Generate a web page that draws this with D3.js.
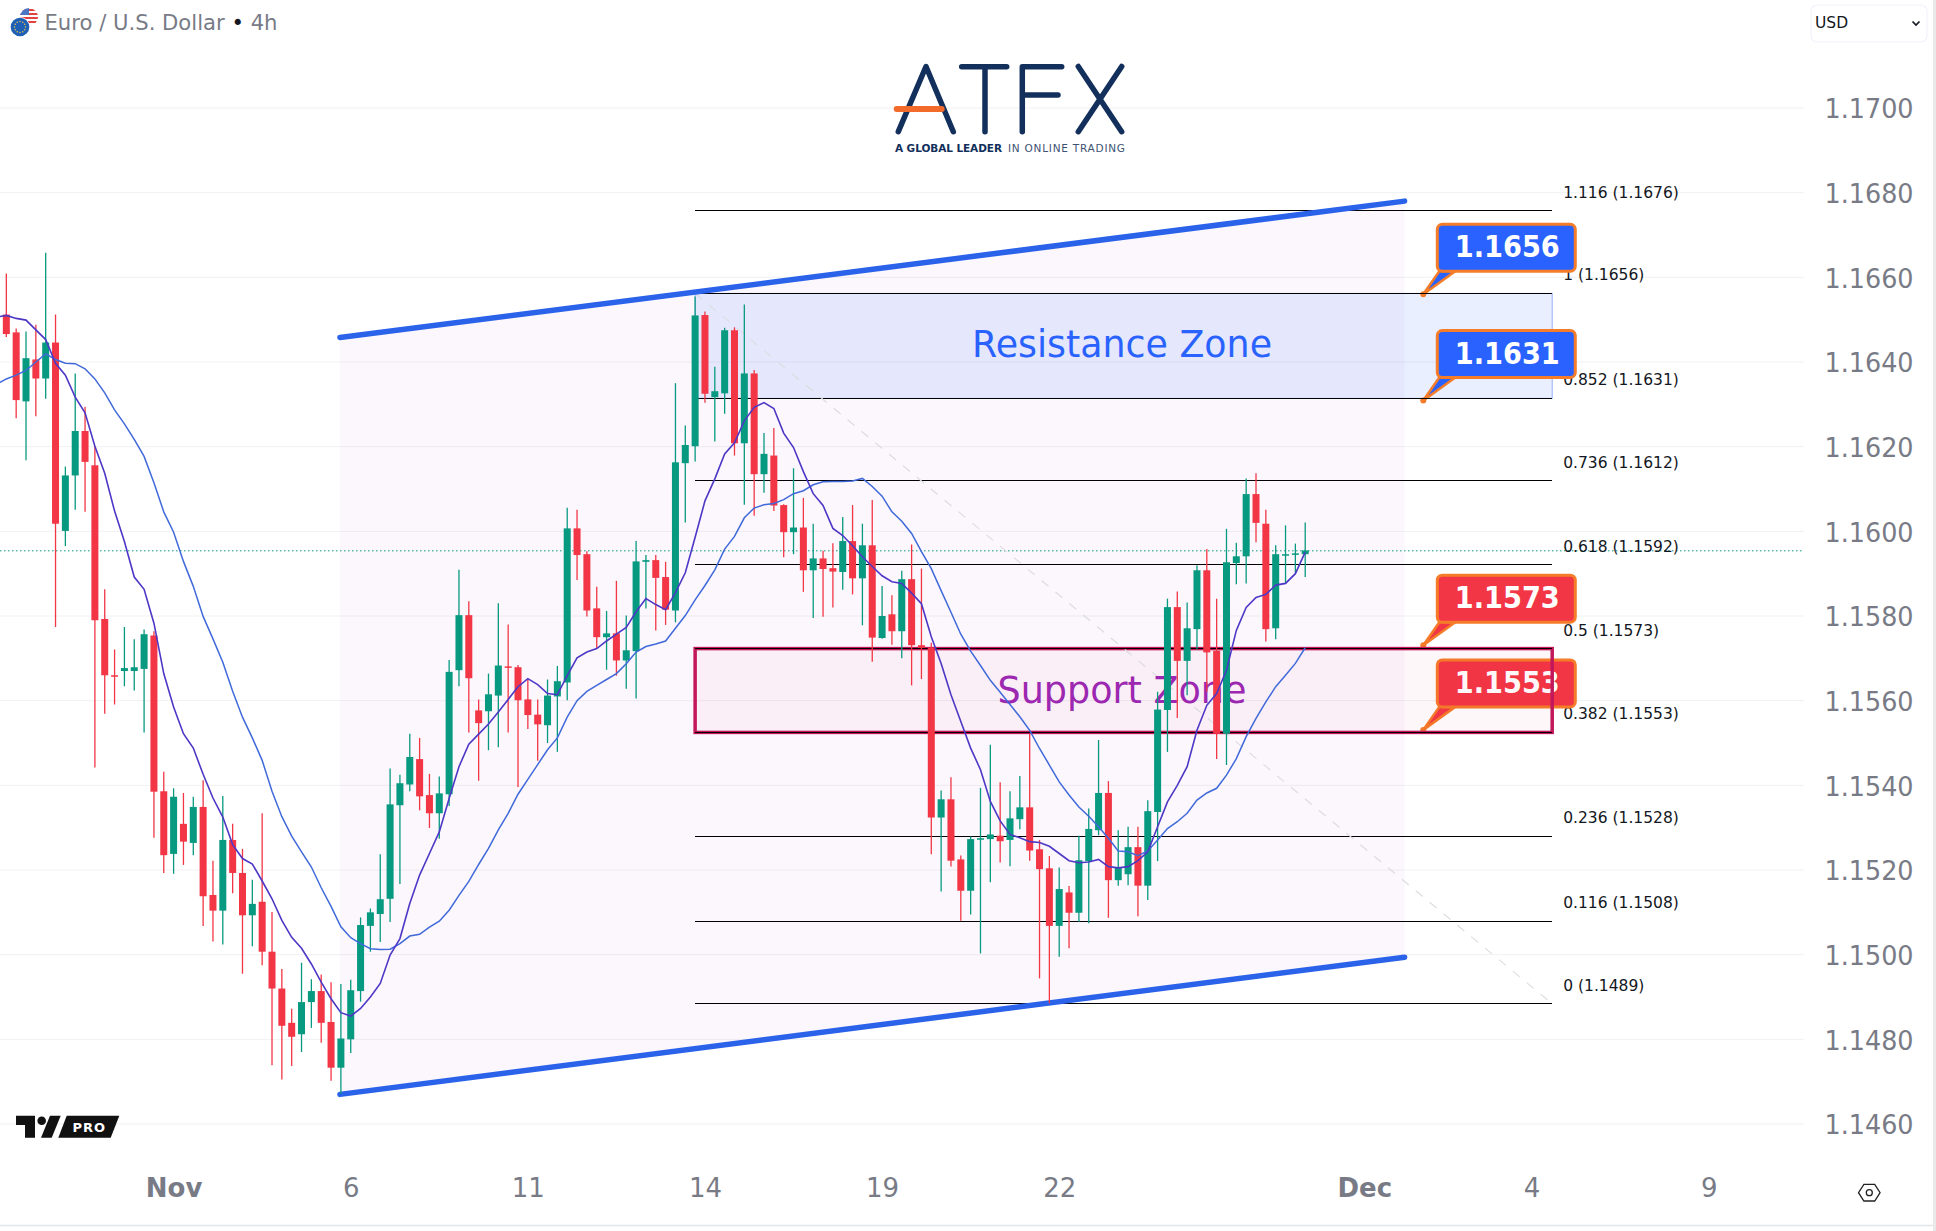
<!DOCTYPE html>
<html>
<head>
<meta charset="utf-8">
<script src="https://cdn.jsdelivr.net/npm/d3@7"></script>
<style>
  html, body { margin: 0; padding: 0; background: #fff; }
  svg { display: block; }
  text { font-family: "DejaVu Sans", sans-serif; }
</style>
</head>
<body>
<div id="chart"></div>
<script>
// 4h bars, first bar is index 0
const opens = [
  1.16512,1.16470,1.16307,1.16406,1.16361,1.16446,1.16001,1.16132,1.16237,1.16156,
  1.15793,1.15660,1.15670,1.15670,1.15675,1.15754,1.15386,1.15238,1.15309,1.15264,
  1.15349,1.15141,1.15104,1.15271,1.15193,1.15093,1.15125,1.15007,1.14920,1.14839,
  1.14812,1.14888,1.14914,1.14841,1.14733,1.14800,1.14914,1.15068,1.15096,1.15132,
  1.15353,1.15402,1.15462,1.15377,1.15334,1.15379,1.15672,1.15802,1.15577,1.15575,
  1.15612,1.15681,1.15679,1.15603,1.15567,1.15542,1.15610,1.15643,1.16007,1.15946,
  1.15818,1.15750,1.15759,1.15695,1.15717,1.15928,1.15932,1.15892,1.15813,1.16161,
  1.16201,1.16511,1.16317,1.16326,1.16475,1.16208,1.16373,1.16135,1.16179,1.16062,
  1.15998,1.16009,1.15908,1.15936,1.15913,1.15904,1.15977,1.15889,1.15967,1.15748,
  1.15804,1.15764,1.15887,1.15731,1.15725,1.15324,1.15367,1.15225,1.15151,1.15272,
  1.15273,1.15281,1.15271,1.15320,1.15348,1.15249,1.15204,1.15068,1.15147,1.15099,
  1.15221,1.15294,1.15382,1.15176,1.15190,1.15254,1.15163,1.15337,1.15578,1.15821,
  1.15694,1.15769,1.15908,1.15718,1.15522,1.15925,1.15941,1.16088,1.16018,1.15771,
  1.15943,1.15946,1.15946
];
const highs = [
  1.16609,1.16479,1.16472,1.16488,1.16658,1.16512,1.16153,1.16373,1.16294,1.16201,
  1.15863,1.15721,1.15774,1.15745,1.15768,1.15764,1.15432,1.15393,1.15382,1.15373,
  1.15412,1.15222,1.15375,1.15309,1.15250,1.15177,1.15334,1.15101,1.14966,1.14872,
  1.14981,1.14942,1.14953,1.14935,1.14931,1.14941,1.15088,1.15109,1.15237,1.15440,
  1.15425,1.15522,1.15512,1.15427,1.15421,1.15696,1.15909,1.15835,1.15603,1.15664,
  1.15830,1.15780,1.15684,1.15650,1.15603,1.15650,1.15682,1.16056,1.16051,1.15953,
  1.15869,1.15812,1.15883,1.15801,1.15977,1.15944,1.15944,1.15928,1.16350,1.16250,
  1.16555,1.16519,1.16389,1.16481,1.16482,1.16536,1.16381,1.16232,1.16244,1.16064,
  1.16149,1.16079,1.16018,1.15954,1.15972,1.16034,1.16062,1.16018,1.16074,1.15871,
  1.15849,1.15907,1.15969,1.15912,1.15737,1.15388,1.15419,1.15234,1.15279,1.15394,
  1.15496,1.15407,1.15386,1.15422,1.15522,1.15271,1.15233,1.15206,1.15162,1.15281,
  1.15345,1.15507,1.15410,1.15294,1.15302,1.15302,1.15365,1.15621,1.15841,1.15858,
  1.15832,1.15920,1.15958,1.15841,1.16006,1.15973,1.16125,1.16137,1.16051,1.15967,
  1.16014,1.15971,1.16021
];
const lows = [
  1.16459,1.16267,1.16168,1.16272,1.16313,1.15774,1.15965,1.16051,1.16046,1.15442,
  1.15569,1.15591,1.15634,1.15624,1.15525,1.15276,1.15193,1.15191,1.15212,1.15235,
  1.15068,1.15031,1.15024,1.15145,1.14955,1.15020,1.14975,1.14739,1.14705,1.14737,
  1.14770,1.14827,1.14792,1.14702,1.14671,1.14768,1.14889,1.15007,1.15030,1.15077,
  1.15167,1.15386,1.15341,1.15299,1.15274,1.15351,1.15634,1.15525,1.15411,1.15483,
  1.15490,1.15525,1.15396,1.15533,1.15458,1.15500,1.15479,1.15601,1.15885,1.15799,
  1.15723,1.15673,1.15659,1.15628,1.15605,1.15818,1.15766,1.15779,1.15785,1.16021,
  1.16165,1.16304,1.16212,1.16278,1.16179,1.16063,1.16037,1.16091,1.16048,1.15939,
  1.15946,1.15857,1.15795,1.15798,1.15820,1.15862,1.15851,1.15778,1.15692,1.15746,
  1.15732,1.15700,1.15636,1.15651,1.15237,1.15149,1.15208,1.15080,1.15095,1.15003,
  1.15171,1.15218,1.15209,1.15296,1.15222,1.14944,1.14885,1.14995,1.15015,1.15078,
  1.15074,1.15282,1.15087,1.15163,1.15164,1.15091,1.15129,1.15221,1.15479,1.15559,
  1.15613,1.15721,1.15621,1.15462,1.15448,1.15875,1.15877,1.15974,1.15740,1.15745,
  1.15877,1.15902,1.15892
];
const closes = [
  1.16466,1.16310,1.16409,1.16361,1.16446,1.16018,1.16132,1.16237,1.16164,1.15790,
  1.15660,1.15658,1.15677,1.15679,1.15757,1.15385,1.15235,1.15373,1.15267,1.15349,
  1.15138,1.15104,1.15271,1.15193,1.15093,1.15120,1.15007,1.14920,1.14832,1.14806,
  1.14888,1.14914,1.14839,1.14733,1.14802,1.14916,1.15070,1.15100,1.15131,1.15355,
  1.15405,1.15467,1.15374,1.15334,1.15381,1.15668,1.15802,1.15653,1.15547,1.15615,
  1.15683,1.15679,1.15601,1.15566,1.15544,1.15612,1.15646,1.16007,1.15944,1.15813,
  1.15750,1.15759,1.15695,1.15719,1.15929,1.15932,1.15890,1.15815,1.16163,1.16204,
  1.16510,1.16325,1.16331,1.16475,1.16208,1.16373,1.16135,1.16183,1.16061,1.15998,
  1.16009,1.15908,1.15936,1.15911,1.15905,1.15977,1.15889,1.15967,1.15749,1.15800,
  1.15764,1.15887,1.15731,1.15725,1.15324,1.15367,1.15222,1.15151,1.15273,1.15275,
  1.15284,1.15268,1.15322,1.15348,1.15246,1.15202,1.15068,1.15155,1.15099,1.15223,
  1.15297,1.15382,1.15176,1.15207,1.15254,1.15163,1.15339,1.15579,1.15821,1.15694,
  1.15771,1.15908,1.15714,1.15522,1.15927,1.15941,1.16088,1.16020,1.15769,1.15946,
  1.15946,1.15948,1.15955
];

// moving averages, first value belongs to bar -1 (just off the left edge)
const fastMa = [
  1.16506,1.16510,1.16503,1.16499,1.16476,1.16453,1.16397,1.16369,1.16317,1.16280,
  1.16201,1.16137,1.16048,1.15976,1.15892,1.15863,1.15783,1.15664,1.15585,1.15522,
  1.15488,1.15426,1.15370,1.15325,1.15260,1.15227,1.15214,1.15174,1.15132,1.15081,
  1.15041,1.15015,1.14978,1.14935,1.14896,1.14863,1.14855,1.14873,1.14900,1.14932,
  1.14999,1.15038,1.15121,1.15188,1.15239,1.15290,1.15369,1.15444,1.15497,1.15521,
  1.15545,1.15573,1.15603,1.15633,1.15652,1.15638,1.15617,1.15614,1.15659,1.15701,
  1.15715,1.15723,1.15741,1.15757,1.15773,1.15810,1.15841,1.15827,1.15815,1.15855,
  1.15902,1.15986,1.16072,1.16124,1.16183,1.16209,1.16261,1.16293,1.16304,1.16290,
  1.16232,1.16198,1.16141,1.16089,1.16061,1.16007,1.15990,1.15966,1.15940,1.15917,
  1.15895,1.15881,1.15877,1.15854,1.15829,1.15751,1.15688,1.15614,1.15551,1.15488,
  1.15437,1.15362,1.15316,1.15284,1.15276,1.15267,1.15265,1.15256,1.15239,1.15222,
  1.15217,1.15219,1.15225,1.15208,1.15205,1.15208,1.15222,1.15243,1.15302,1.15361,
  1.15400,1.15444,1.15530,1.15589,1.15617,1.15672,1.15766,1.15820,1.15844,1.15851,
  1.15873,1.15877,1.15900,1.15951
];
const slowMa = [
  1.16347,1.16360,1.16369,1.16380,1.16400,1.16419,1.16406,1.16397,1.16396,1.16384,
  1.16360,1.16327,1.16287,1.16254,1.16217,1.16177,1.16115,1.16046,1.15998,1.15929,
  1.15870,1.15799,1.15746,1.15691,1.15622,1.15561,1.15512,1.15459,1.15386,1.15326,
  1.15280,1.15243,1.15207,1.15158,1.15114,1.15066,1.15040,1.15026,1.15014,1.15012,
  1.15013,1.15026,1.15044,1.15048,1.15065,1.15079,1.15105,1.15140,1.15173,1.15213,
  1.15251,1.15295,1.15334,1.15379,1.15414,1.15449,1.15484,1.15512,1.15561,1.15600,
  1.15622,1.15636,1.15650,1.15664,1.15687,1.15715,1.15728,1.15734,1.15741,1.15771,
  1.15801,1.15838,1.15872,1.15909,1.15958,1.15988,1.16032,1.16055,1.16063,1.16066,
  1.16075,1.16089,1.16096,1.16110,1.16117,1.16118,1.16118,1.16119,1.16125,1.16106,
  1.16083,1.16046,1.16024,1.15995,1.15952,1.15912,1.15860,1.15809,1.15757,1.15717,
  1.15683,1.15648,1.15620,1.15591,1.15562,1.15530,1.15487,1.15448,1.15408,1.15377,
  1.15349,1.15327,1.15302,1.15275,1.15245,1.15243,1.15234,1.15245,1.15271,1.15298,
  1.15314,1.15334,1.15365,1.15382,1.15393,1.15424,1.15463,1.15515,1.15558,1.15597,
  1.15633,1.15660,1.15688,1.15725
];

const priceTicks = [1.17,1.168,1.166,1.164,1.162,1.16,1.158,1.156,1.154,1.152,1.15,1.148,1.146];
const timeTickBars = [17,35,53,71,89,107,138,155,173];
const timeTickLabels = ["Nov","6","11","14","19","22","Dec","4","9"];
const lastPrice = 1.15954;

const fibRatios = ["1.116","1","0.852","0.736","0.618","0.5","0.382","0.236","0.116","0"];
const fibShown = ["1.1676","1.1656","1.1631","1.1612","1.1592","1.1573","1.1553","1.1528","1.1508","1.1489"];
const fibPrices = [1.16757,1.16562,1.16314,1.16119,1.15921,1.15723,1.15525,1.1528,1.15079,1.14884];
const fibBars = [70,157.1];

const channelBars = [33.9,142.1];
const channelUpper = [1.16458,1.1678];
const channelLower = [1.1467,1.14994];

const calloutLabels = ["1.1656","1.1631","1.1573","1.1553"];
const calloutPrices = [1.1656,1.16309,1.15731,1.15531];
const calloutFills = ["#2962ff","#2962ff","#f23645","#f23645"];
const calloutBar = 144;

const width = 1936, height = 1231, paneRight = 1804;
const green = "#089981", red = "#f23645", axisGrey = "#787b86";

const x = d3.scaleLinear().domain([0,132]).range([6.33,1305.21]);
const y = d3.scaleLinear().domain([1.17,1.146]).range([108,1124]);

const svg = d3.select("#chart").append("svg")
  .attr("width", width)
  .attr("height", height)
  .style("background", "#fff");

svg.append("clipPath").attr("id", "pane")
  .append("rect").attr("width", paneRight).attr("height", 1160);

const pane = svg.append("g").attr("clip-path", "url(#pane)");

// grid
pane.selectAll(".grid").data(priceTicks).join("line")
  .attr("class", "grid")
  .attr("x1", 0).attr("x2", paneRight)
  .attr("y1", d => y(d)).attr("y2", d => y(d))
  .attr("stroke", "#f0f1f3");

// channel shading
const channelShape = [
  [channelBars[0], channelUpper[0]], [channelBars[1], channelUpper[1]],
  [channelBars[1], channelLower[1]], [channelBars[0], channelLower[0]]
];
pane.append("polygon")
  .attr("points", channelShape.map(d => [x(d[0]), y(d[1])].join(",")).join(" "))
  .attr("fill", "#9c27b0").attr("fill-opacity", 0.04);

// last price
pane.append("line")
  .attr("x1", 0).attr("x2", paneRight - 2)
  .attr("y1", y(lastPrice)).attr("y2", y(lastPrice))
  .attr("stroke", green).attr("stroke-dasharray", "1.5 2.5");

// resistance zone
pane.append("rect")
  .attr("x", x(fibBars[0])).attr("y", y(fibPrices[1]))
  .attr("width", x(fibBars[1]) - x(fibBars[0]))
  .attr("height", y(fibPrices[2]) - y(fibPrices[1]))
  .attr("fill", "#2962ff").attr("fill-opacity", 0.1)
  .attr("stroke", "#93b2f5");

// fib labels
pane.selectAll(".fib-label").data(fibRatios).join("text")
  .attr("class", "fib-label")
  .attr("x", x(fibBars[1]) + 11)
  .attr("y", (d, i) => y(fibPrices[i]) - 18)
  .attr("dominant-baseline", "central")
  .attr("font-size", 15.5)
  .attr("fill", "#131722")
  .text((d, i) => `${d} (${fibShown[i]})`);

// callouts
const callouts = pane.selectAll(".callout").data(calloutLabels).join("g")
  .attr("class", "callout")
  .attr("transform", (d, i) => `translate(${x(calloutBar)},${y(calloutPrices[i])})`);
callouts.append("polygon")
  .attr("points", "0,0 16,-23 32,-23")
  .attr("fill", (d, i) => calloutFills[i])
  .attr("stroke", "#f57c28").attr("stroke-width", 2.5).attr("stroke-linejoin", "round");
callouts.append("rect")
  .attr("x", 14).attr("y", -70)
  .attr("width", 138).attr("height", 47).attr("rx", 5)
  .attr("fill", (d, i) => calloutFills[i])
  .attr("stroke", "#f57c28").attr("stroke-width", 3);
callouts.append("circle").attr("r", 3).attr("fill", "#f57c28");
callouts.append("text")
  .attr("x", 84).attr("y", -47.5)
  .attr("text-anchor", "middle").attr("dominant-baseline", "central")
  .attr("font-size", 30).attr("font-weight", 700).attr("fill", "#fff")
  .attr("textLength", 105).attr("lengthAdjust", "spacingAndGlyphs")
  .text(d => d);

// support zone goes over the callouts
pane.append("rect")
  .attr("x", x(fibBars[0])).attr("y", y(fibPrices[5]))
  .attr("width", x(fibBars[1]) - x(fibBars[0]))
  .attr("height", y(fibPrices[6]) - y(fibPrices[5]))
  .attr("fill", "#e91e63").attr("fill-opacity", 0.035)
  .attr("stroke", "#c2185b").attr("stroke-width", 3.5);

// fib levels
pane.selectAll(".fib-line").data(fibPrices).join("line")
  .attr("class", "fib-line")
  .attr("x1", x(fibBars[0])).attr("x2", x(fibBars[1]))
  .attr("y1", d => y(d)).attr("y2", d => y(d))
  .attr("stroke", "#000").attr("stroke-width", 1)
  .attr("shape-rendering", "crispEdges");

pane.append("line")
  .attr("x1", x(fibBars[0])).attr("y1", y(fibPrices[1]))
  .attr("x2", x(fibBars[1])).attr("y2", y(fibPrices[9]))
  .attr("stroke", "#dcdde1").attr("stroke-width", 1.2).attr("stroke-dasharray", "9 9");

// channel edges
[channelUpper, channelLower].forEach(edge => {
  pane.append("line")
    .attr("x1", x(channelBars[0])).attr("y1", y(edge[0]))
    .attr("x2", x(channelBars[1])).attr("y2", y(edge[1]))
    .attr("stroke", "#2b62ea").attr("stroke-width", 5.5).attr("stroke-linecap", "round");
});

// zone names
pane.append("text")
  .attr("x", 1122).attr("y", y(1.16442))
  .attr("text-anchor", "middle").attr("dominant-baseline", "central")
  .attr("font-size", 37).attr("fill", "#2962ff")
  .attr("textLength", 300).attr("lengthAdjust", "spacingAndGlyphs")
  .text("Resistance Zone");
pane.append("text")
  .attr("x", 1122).attr("y", y(1.15625))
  .attr("text-anchor", "middle").attr("dominant-baseline", "central")
  .attr("font-size", 37).attr("fill", "#9c27b0")
  .attr("textLength", 249).attr("lengthAdjust", "spacingAndGlyphs")
  .text("Support Zone");

// candles
const candles = pane.selectAll(".candle").data(opens).join("g").attr("class", "candle");
const tone = (d, i) => closes[i] >= d ? green : red;
candles.append("line")
  .attr("x1", (d, i) => x(i)).attr("x2", (d, i) => x(i))
  .attr("y1", (d, i) => y(highs[i])).attr("y2", (d, i) => y(lows[i]))
  .attr("stroke", tone).attr("stroke-width", 1.3);
candles.append("rect")
  .attr("x", (d, i) => x(i) - 3.5)
  .attr("width", 7)
  .attr("y", (d, i) => y(Math.max(d, closes[i])))
  .attr("height", (d, i) => Math.max(1.5, Math.abs(y(d) - y(closes[i]))))
  .attr("fill", tone);

// moving averages
const maLine = d3.line().x((d, i) => x(i - 1)).y(d => y(d));
pane.append("path").attr("d", maLine(slowMa))
  .attr("fill", "none").attr("stroke", "#4069da").attr("stroke-width", 1.5);
pane.append("path").attr("d", maLine(fastMa))
  .attr("fill", "none").attr("stroke", "#4d38c6").attr("stroke-width", 1.6);

// axes
const priceAxis = svg.append("g")
  .attr("transform", "translate(1800,0)")
  .call(d3.axisRight(y).tickValues(priceTicks).tickFormat(d3.format(".4f")).tickSize(0));
priceAxis.select(".domain").remove();
priceAxis.selectAll("text")
  .attr("x", 113.5).attr("dy", "0.36em")
  .attr("text-anchor", "end")
  .attr("font-family", "DejaVu Sans").attr("font-size", 27)
  .attr("fill", axisGrey)
  .attr("textLength", 89).attr("lengthAdjust", "spacingAndGlyphs");

const timeAxis = svg.append("g")
  .attr("transform", "translate(0,1160)")
  .call(d3.axisBottom(x).tickValues(timeTickBars)
    .tickFormat((d, i) => timeTickLabels[i]).tickSize(0));
timeAxis.select(".domain").remove();
timeAxis.selectAll("text")
  .attr("y", 28).attr("dy", "0.36em")
  .attr("font-family", "Noto Sans").attr("font-size", 26)
  .attr("font-weight", (d, i) => /[A-Z]/.test(timeTickLabels[i]) ? 700 : 500)
  .attr("fill", axisGrey);

// chart frame
svg.append("line").attr("x1", 0).attr("x2", 1933).attr("y1", 1225.5).attr("y2", 1225.5)
  .attr("stroke", "#e4e5e9").attr("stroke-width", 1.5);
svg.append("rect").attr("x", 1933).attr("width", 3).attr("height", height).attr("fill", "#e9e9ea");

// title
const flag = svg.append("g");
flag.append("clipPath").attr("id", "us").append("circle").attr("cx", 29).attr("cy", 17).attr("r", 9);
const us = flag.append("g").attr("clip-path", "url(#us)");
us.append("rect").attr("x", 20).attr("y", 8).attr("width", 18).attr("height", 18).attr("fill", "#fff");
[9, 13, 17, 21].forEach(s => us.append("rect").attr("x", 20).attr("y", s).attr("width", 18).attr("height", 2).attr("fill", "#e2433f"));
us.append("rect").attr("x", 20).attr("y", 8).attr("width", 9).attr("height", 7).attr("fill", "#4a76c4");
flag.append("circle").attr("cx", 20).attr("cy", 27).attr("r", 10).attr("fill", "#fff");
flag.append("circle").attr("cx", 20).attr("cy", 27).attr("r", 9.3).attr("fill", "#1f5fb5");
d3.range(12).forEach(k => {
  const a = k * Math.PI / 6;
  flag.append("circle").attr("cx", 20 + 5.5 * Math.cos(a)).attr("cy", 27 + 5.5 * Math.sin(a))
    .attr("r", 0.7).attr("fill", "#f4d03f");
});
const title = svg.append("text")
  .attr("x", 44.5).attr("y", 23)
  .attr("dominant-baseline", "central")
  .attr("font-size", 21).attr("fill", axisGrey)
  .attr("textLength", 233).attr("lengthAdjust", "spacingAndGlyphs");
title.append("tspan").text("Euro / U.S. Dollar ");
title.append("tspan").attr("fill", "#131722").text("•");
title.append("tspan").text(" 4h");

// currency button
svg.append("rect").attr("x", 1811).attr("y", 5).attr("width", 116).attr("height", 37).attr("rx", 6)
  .attr("fill", "#fff").attr("stroke", "#f0f3fa").attr("stroke-width", 1.2);
svg.append("text").attr("x", 1815).attr("y", 23).attr("dominant-baseline", "central")
  .attr("font-size", 15.5).attr("fill", "#131722").text("USD");
svg.append("path").attr("d", "M1912.5 21.5 L1916 25 L1919.5 21.5")
  .attr("fill", "none").attr("stroke", "#131722").attr("stroke-width", 1.7);

// ATFX logo
const navy = "#12305b";
const logo = svg.append("g").attr("fill", "none").attr("stroke", navy)
  .attr("stroke-width", 5.5).attr("stroke-linecap", "round").attr("stroke-linejoin", "round");
logo.append("path").attr("d", "M898.3 131.7 L926 66.5 L953.3 131.7");
logo.append("path").attr("d", "M896.7 109 H941.7").attr("stroke", "#f26b2a").attr("stroke-width", 6);
logo.append("path").attr("d", "M961.7 66.7 H1006.7 M985 66.7 V131.7");
logo.append("path").attr("d", "M1022.3 131.7 V66.7 H1061.7 M1022.3 95 H1058");
logo.append("path").attr("d", "M1078.3 66.5 L1121.7 131.7 M1121.7 66.5 L1078.3 131.7");
svg.append("text").attr("x", 895).attr("y", 148.3).attr("dominant-baseline", "central")
  .attr("font-family", "Lato").attr("font-size", 10.5).attr("font-weight", 900).attr("fill", navy)
  .attr("textLength", 107).attr("lengthAdjust", "spacing").text("A GLOBAL LEADER");
svg.append("text").attr("x", 1008).attr("y", 148.3).attr("dominant-baseline", "central")
  .attr("font-family", "Lato").attr("font-size", 10.5).attr("fill", "#3d5272")
  .attr("textLength", 117).attr("lengthAdjust", "spacing").text("IN ONLINE TRADING");

// TradingView PRO mark
const tv = svg.append("g").attr("fill", "#111");
tv.append("polygon").attr("points", "16,1115.7 35,1115.7 35,1137.7 25,1137.7 25,1125 16,1125");
tv.append("circle").attr("cx", 41.7).attr("cy", 1120.7).attr("r", 4.3);
tv.append("polygon").attr("points", "50,1115.7 60.7,1115.7 51.7,1137.7 41,1137.7");
tv.append("polygon").attr("points", "66.7,1115.7 119.3,1115.7 110.7,1137.7 58.3,1137.7");
svg.append("text").attr("x", 89.3).attr("y", 1127).attr("text-anchor", "middle")
  .attr("dominant-baseline", "central")
  .attr("font-family", "Lato").attr("font-size", 13).attr("font-weight", 700).attr("letter-spacing", 1)
  .attr("fill", "#fff").text("PRO");

// settings icon
const hex = d3.range(6).map(k => {
  const a = k * Math.PI / 3;
  return [1869.3 + 10.8 * Math.cos(a), 1192.7 + 9.6 * Math.sin(a)].join(",");
}).join(" ");
svg.append("polygon").attr("points", hex).attr("fill", "none").attr("stroke", "#222").attr("stroke-width", 1.3);
svg.append("circle").attr("cx", 1869.3).attr("cy", 1192.7).attr("r", 3).attr("fill", "none")
  .attr("stroke", "#222").attr("stroke-width", 1.3);
</script>
</body>
</html>
